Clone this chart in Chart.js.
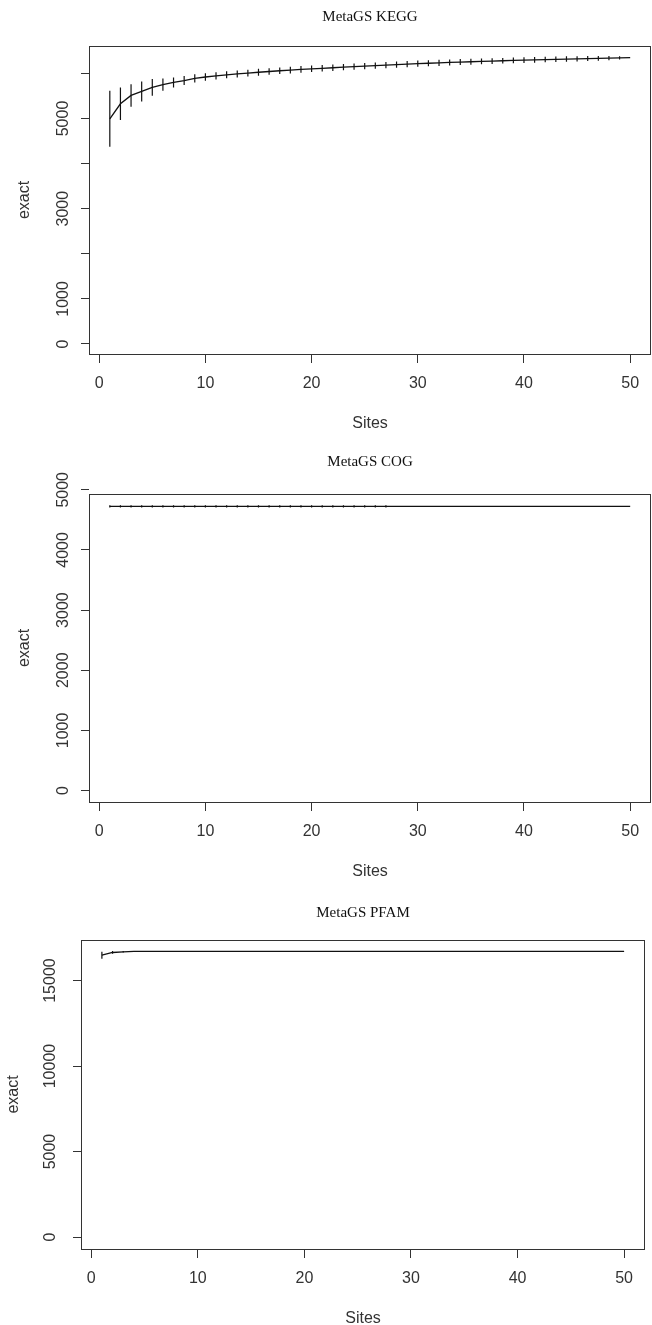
<!DOCTYPE html>
<html>
<head>
<meta charset="utf-8">
<script src="https://cdn.jsdelivr.net/npm/chart.js@4/dist/chart.umd.min.js"></script>
<style>
html, body { margin: 0; padding: 0; background: #fff; width: 652px; height: 1325px; overflow: hidden; }
.plot { position: absolute; left: 0; width: 652px; }
canvas { display: block; }
</style>
</head>
<body>
<div class="plot" style="top:0px"><canvas id="kegg" width="652" height="441"></canvas></div>
<div class="plot" style="top:441px"><canvas id="cog" width="652" height="448"></canvas></div>
<div class="plot" style="top:882px"><canvas id="pfam" width="652" height="454"></canvas></div>
<script>
// accumulation curves
const sites = [1, 2, 3, 4, 5, 6, 7, 8, 9, 10, 11, 12, 13, 14, 15, 16, 17, 18, 19, 20,
  21, 22, 23, 24, 25, 26, 27, 28, 29, 30, 31, 32, 33, 34, 35, 36, 37, 38, 39, 40,
  41, 42, 43, 44, 45, 46, 47, 48, 49, 50];

const keggMean = [4993, 5326, 5511, 5600, 5690, 5750, 5800, 5840, 5890, 5920,
  5945, 5968, 5988, 6007, 6025, 6042, 6058, 6073, 6088, 6102,
  6112, 6125, 6138, 6150, 6162, 6173, 6184, 6195, 6205, 6215,
  6224, 6233, 6242, 6250, 6258, 6266, 6273, 6280, 6287, 6294,
  6300, 6306, 6312, 6318, 6323, 6328, 6333, 6338, 6343, 6348];
const keggCi = [620, 360, 250, 222, 185, 137, 111, 100, 90, 81,
  79, 78, 77, 76, 75, 74, 74, 73, 73, 72,
  72, 72, 71, 71, 70, 70, 69, 69, 68, 68,
  68, 67, 67, 66, 65, 65, 64, 63, 63, 62,
  62, 61, 60, 59, 58, 56, 52, 46, 36, 0];

const cogMean = [4725, 4725, 4725, 4725, 4725, 4725, 4725, 4725, 4725, 4725,
  4725, 4725, 4725, 4725, 4725, 4725, 4725, 4725, 4725, 4725,
  4725, 4725, 4725, 4725, 4725, 4725, 4725, 4725, 4725, 4725,
  4725, 4725, 4725, 4725, 4725, 4725, 4725, 4725, 4725, 4725,
  4725, 4725, 4725, 4725, 4725, 4725, 4725, 4725, 4725, 4725];
const cogCi = [20, 20, 20, 20, 20, 20, 20, 20, 20, 20,
  20, 20, 20, 20, 20, 20, 20, 20, 20, 20,
  20, 20, 20, 20, 20, 20, 20, 0, 0, 0,
  0, 0, 0, 0, 0, 0, 0, 0, 0, 0,
  0, 0, 0, 0, 0, 0, 0, 0, 0, 0];

const pfamMean = [16480, 16640, 16680, 16700, 16700, 16700, 16700, 16700, 16700, 16700,
  16700, 16700, 16700, 16700, 16700, 16700, 16700, 16700, 16700, 16700,
  16700, 16700, 16700, 16700, 16700, 16700, 16700, 16700, 16700, 16700,
  16700, 16700, 16700, 16700, 16700, 16700, 16700, 16700, 16700, 16700,
  16700, 16700, 16700, 16700, 16700, 16700, 16700, 16700, 16700, 16700];
const pfamCi = [200, 80, 40, 0, 0, 0, 0, 0, 0, 0,
  0, 0, 0, 0, 0, 0, 0, 0, 0, 0,
  0, 0, 0, 0, 0, 0, 0, 0, 0, 0,
  0, 0, 0, 0, 0, 0, 0, 0, 0, 0,
  0, 0, 0, 0, 0, 0, 0, 0, 0, 0];

const xTicks = [0, 10, 20, 30, 40, 50];
const keggTicks = [0, 1000, 2000, 3000, 4000, 5000, 6000];
const keggLabels = [0, 1000, 3000, 5000];
const cogTicks = [0, 1000, 2000, 3000, 4000, 5000];
const cogLabels = [0, 1000, 2000, 3000, 4000, 5000];
const pfamTicks = [0, 5000, 10000, 15000];
const pfamLabels = [0, 5000, 10000, 15000];

const INK = '#111';
const AXIS = '#333';

// R style frame round the plot region
const boxPlugin = {
  id: 'plotBox',
  afterDraw(chart) {
    const a = chart.chartArea;
    const ctx = chart.ctx;
    ctx.save();
    ctx.strokeStyle = AXIS;
    ctx.lineWidth = 1;
    ctx.strokeRect(Math.round(a.left) + 0.5, Math.round(a.top) + 0.5,
      Math.round(a.right - a.left) - 1, Math.round(a.bottom - a.top));
    ctx.restore();
  }
};

function errorSegments(mean, ci) {
  const pts = [];
  sites.forEach((s, i) => {
    if (ci[i] > 0) {
      pts.push({x: s, y: mean[i] - ci[i]});
      pts.push({x: s, y: mean[i] + ci[i]});
      pts.push({x: s, y: null});
    }
  });
  return pts;
}

function makePlot(id, title, mean, ci, yTicks, yLabels, lay) {
  const ctx = document.getElementById(id).getContext('2d');
  return new Chart(ctx, {
    type: 'line',
    data: {
      datasets: [{
        data: errorSegments(mean, ci),
        borderColor: INK,
        borderWidth: 1.2,
        pointRadius: 0,
        spanGaps: false
      }, {
        data: sites.map((s, i) => ({x: s, y: mean[i]})),
        borderColor: INK,
        borderWidth: 1.3,
        pointRadius: 0,
        tension: 0
      }]
    },
    options: {
      responsive: false,
      animation: false,
      layout: { padding: { top: 0, left: 0, bottom: 0, right: 652 - lay.right } },
      plugins: {
        legend: { display: false },
        tooltip: { enabled: false },
        title: {
          display: true,
          text: title,
          fullSize: false,
          color: '#111',
          font: { family: 'Liberation Serif', size: 15, weight: 'normal', lineHeight: 1.2 },
          padding: { top: lay.titleY - 9, bottom: lay.boxTop - lay.titleY - 9 }
        }
      },
      scales: {
        x: {
          type: 'linear',
          min: -0.96,
          max: 51.96,
          afterBuildTicks: (s) => { s.ticks = xTicks.map(v => ({value: v})); },
          afterFit: (s) => { s.height = 87; },
          border: { display: false },
          grid: { drawOnChartArea: false, drawTicks: true, tickLength: 9, color: AXIS },
          ticks: {
            autoSkip: false,
            maxRotation: 0,
            padding: 11,
            color: AXIS,
            font: { family: 'Liberation Sans', size: 16 },
            callback: (v) => String(v)
          },
          title: {
            display: true,
            text: 'Sites',
            color: AXIS,
            font: { family: 'Liberation Sans', size: 16 },
            padding: { top: 0, bottom: 8 }
          }
        },
        y: {
          type: 'linear',
          min: lay.yMin,
          max: lay.yMax,
          afterBuildTicks: (s) => { s.ticks = yTicks.map(v => ({value: v})); },
          afterFit: (s) => { s.width = lay.left; },
          border: { display: false },
          grid: { drawOnChartArea: false, drawTicks: true, tickLength: 8, color: AXIS },
          ticks: {
            autoSkip: false,
            minRotation: 90,
            maxRotation: 90,
            crossAlign: 'center',
            padding: 0,
            color: AXIS,
            font: { family: 'Liberation Sans', size: 16 },
            callback: (v) => (yLabels.includes(v) ? String(v) : '')
          },
          title: {
            display: true,
            text: 'exact',
            color: AXIS,
            font: { family: 'Liberation Sans', size: 16 },
            padding: { top: lay.exactX - 9.6, bottom: 0 }
          }
        }
      }
    },
    plugins: [boxPlugin]
  });
}

function init() {
  makePlot('kegg', 'MetaGS KEGG', keggMean, keggCi, keggTicks, keggLabels,
    { titleY: 17, boxTop: 46, left: 89, right: 651, yMin: -222, yMax: 6607, exactX: 25 });
  makePlot('cog', 'MetaGS COG', cogMean, cogCi, cogTicks, cogLabels,
    { titleY: 21, boxTop: 53, left: 89, right: 651, yMin: -190, yMax: 4930, exactX: 25 });
  makePlot('pfam', 'MetaGS PFAM', pfamMean, pfamCi, pfamTicks, pfamLabels,
    { titleY: 31, boxTop: 58, left: 81, right: 645, yMin: -700, yMax: 17370, exactX: 14 });
}

document.addEventListener('DOMContentLoaded', init);
</script>
</body>
</html>
